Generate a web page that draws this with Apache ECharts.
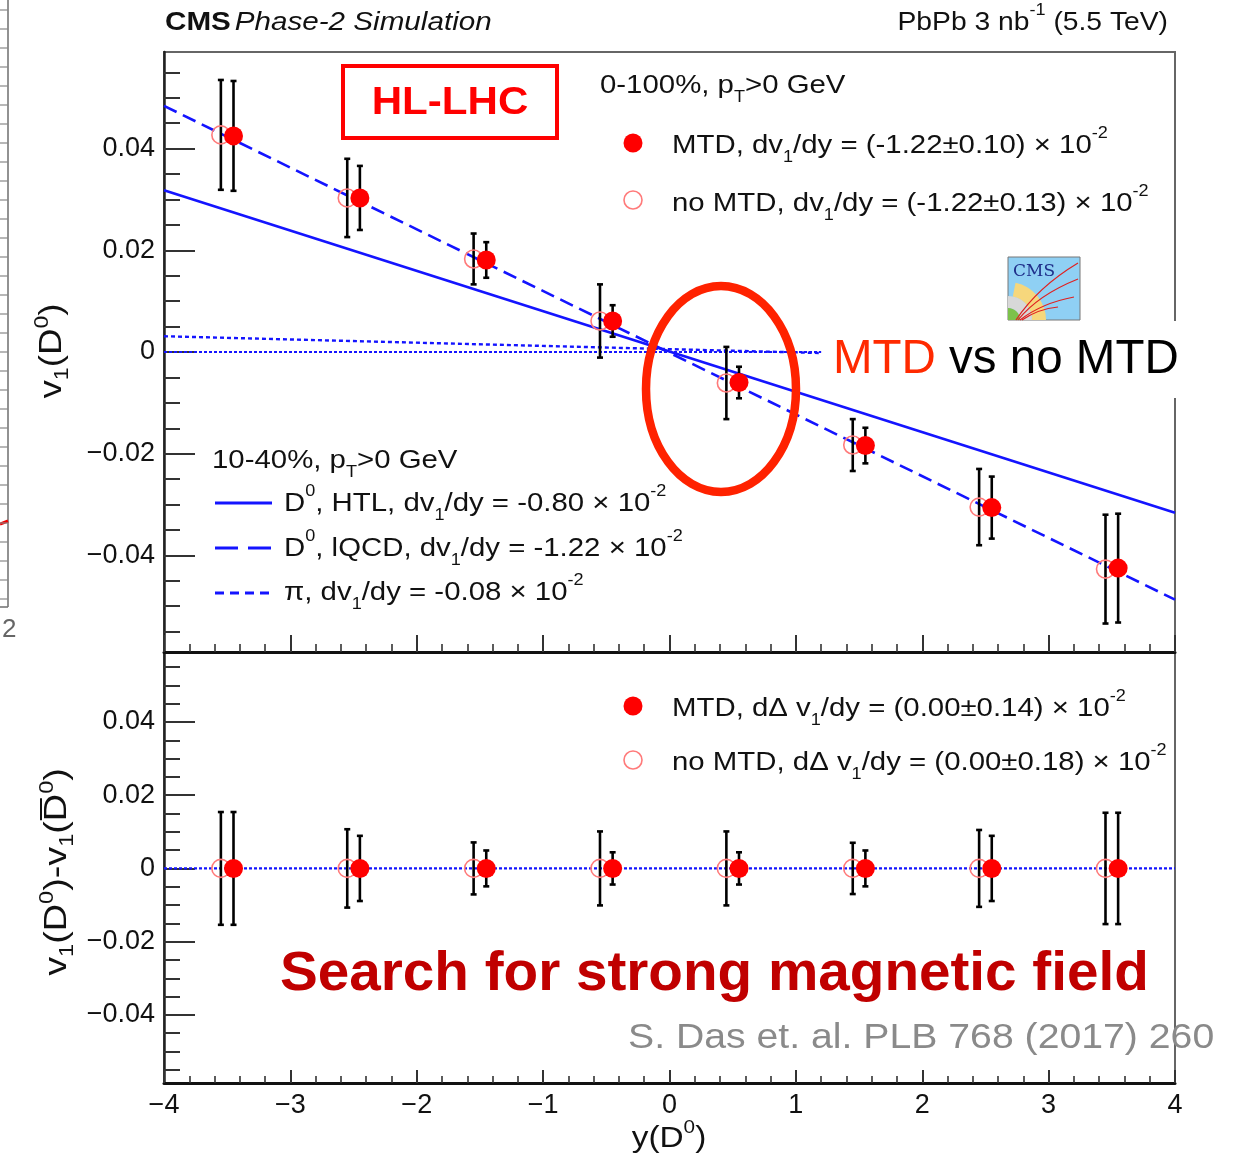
<!DOCTYPE html>
<html>
<head>
<meta charset="utf-8">
<script src="https://cdn.jsdelivr.net/npm/echarts@6/dist/echarts.min.js"></script>
<style>
  html, body { margin: 0; padding: 0; background: #fff; }
  #chart { width: 1246px; height: 1160px; }
</style>
</head>
<body>
<div id="chart"></div>
<script>
// rapidity bins (points shifted +-0.05 so both sets are visible)
const yMtd   = [-3.45, -2.45, -1.45, -0.45, 0.55, 1.55, 2.55, 3.55];
const yNoMtd = [-3.55, -2.55, -1.55, -0.55, 0.45, 1.45, 2.45, 3.45];

// upper panel: v1(D0)
const v1Mtd     = [0.0425, 0.0303, 0.0181, 0.0061, -0.0060, -0.0184, -0.0306, -0.0425];
const v1NoMtd   = [0.0427, 0.0303, 0.0183, 0.0061, -0.0061, -0.0183, -0.0305, -0.0427];
const errMtd    = [0.0108, 0.0063, 0.0035, 0.0031, 0.0031, 0.0035, 0.0061, 0.0107];
const errNoMtd  = [0.0108, 0.0077, 0.0050, 0.0072, 0.0071, 0.0051, 0.0075, 0.0107];

// lower panel: v1(D0) - v1(D0bar)
const dMtd      = [0, 0, 0, 0, 0, 0, 0, 0];
const dNoMtd    = [0, 0, 0, 0, 0, 0, 0, 0];
const dErrMtd   = [0.0154, 0.0089, 0.0049, 0.0044, 0.0044, 0.0049, 0.0089, 0.0152];
const dErrNoMtd = [0.0154, 0.0107, 0.0071, 0.0101, 0.0101, 0.0070, 0.0105, 0.0152];

// model curves
const htlLine  = [[-4, 0.0318], [4, -0.0316]];
const lqcdLine = [[-4, 0.0484], [4, -0.0487]];
const pionLine = [[-4, 0.0031], [1.2, -0.0002]];
const zeroTop  = [[-4, 0], [1.2, 0]];
const zeroBot  = [[-4, 0], [4, 0]];

// axis ticks
const yTicks = [-0.04, -0.02, 0, 0.02, 0.04];
const yMinorTicks = [];
for (let v = -0.055; v < 0.056; v += 0.005) {
  const r = Math.round(v * 1000) / 1000;
  if (yTicks.indexOf(r) < 0) yMinorTicks.push(r);
}

const FONT = "'Liberation Sans', Arial, sans-serif";
const BLUE = '#1414ff';
const RED = '#ff0000';
const OPEN_RED = '#ff7a7a';
const SX = 1.13; // the reference lettering is a little wider than Liberation Sans

const fmt = v => v === 0 ? '0' : (v < 0 ? '\u2212' + Math.abs(v) : String(v));
const zip3 = (xs, ys, es) => xs.map((x, i) => [x, ys[i], es[i]]);
const zip2 = (xs, ys) => xs.map((x, i) => [x, ys[i]]);

function errorBars(params, api) {
  const x = api.value(0), y = api.value(1), e = api.value(2);
  const top = api.coord([x, y + e]);
  const bot = api.coord([x, y - e]);
  const st = { stroke: '#000', lineWidth: 2.6 };
  return {
    type: 'group',
    children: [
      { type: 'line', shape: { x1: top[0], y1: top[1], x2: bot[0], y2: bot[1] }, style: st },
      { type: 'line', shape: { x1: top[0] - 3, y1: top[1], x2: top[0] + 3, y2: top[1] }, style: st },
      { type: 'line', shape: { x1: bot[0] - 3, y1: bot[1], x2: bot[0] + 3, y2: bot[1] }, style: st }
    ]
  };
}

function xAxisCfg(gridIndex, labels, major, minor) {
  return {
    type: 'value', gridIndex: gridIndex, min: -4, max: 4, interval: 1,
    axisLine: { show: true, onZero: false, lineStyle: { color: '#111', width: 3 } },
    axisTick: { show: true, inside: true, length: major, lineStyle: { color: '#333', width: 2 } },
    minorTick: { show: true, splitNumber: 5, length: minor, lineStyle: { color: '#333', width: 1.6 } },
    splitLine: { show: false },
    axisLabel: { show: labels, margin: 9, color: '#111', fontSize: 27, fontFamily: FONT, formatter: fmt }
  };
}
function yAxisMain(gridIndex, min, max) {
  return {
    type: 'value', gridIndex: gridIndex, min: min, max: max, position: 'left',
    axisLine: { show: true, onZero: false, lineStyle: { color: '#222', width: 2.5 } },
    axisTick: { show: true, inside: true, length: 31, customValues: yTicks, lineStyle: { color: '#333', width: 2 } },
    splitLine: { show: false },
    axisLabel: { customValues: yTicks, margin: 9, color: '#111', fontSize: 27, fontFamily: FONT, formatter: fmt }
  };
}
function yAxisMinor(gridIndex, min, max) {
  return {
    type: 'value', gridIndex: gridIndex, min: min, max: max, position: 'left',
    axisLine: { show: false, onZero: false },
    axisTick: { show: true, inside: true, length: 16, customValues: yMinorTicks, lineStyle: { color: '#333', width: 2 } },
    splitLine: { show: false },
    axisLabel: { show: false }
  };
}

function lineSeries(data, xi, yi, type, width) {
  return {
    type: 'line', xAxisIndex: xi, yAxisIndex: yi, data: data, showSymbol: false, symbol: 'none',
    lineStyle: { color: BLUE, width: width, type: type }, z: 1, silent: true
  };
}
function errSeries(data, xi, yi) {
  return { type: 'custom', xAxisIndex: xi, yAxisIndex: yi, data: data, renderItem: errorBars,
           encode: { x: 0, y: 1 }, z: 2, silent: true };
}
function markSeries(data, xi, yi, filled) {
  return {
    type: 'scatter', xAxisIndex: xi, yAxisIndex: yi, data: data, symbol: 'circle',
    symbolSize: filled ? 19 : 18, z: filled ? 4 : 3, silent: true,
    itemStyle: filled ? { color: RED, opacity: 1 }
                      : { color: 'rgba(255,255,255,0)', borderColor: OPEN_RED, borderWidth: 1.6, opacity: 1 }
  };
}

// rich text helpers for sub/superscripts
function rich(size) {
  const s = Math.round(size * 0.62);
  return {
    n: { fontSize: size, fontFamily: FONT, lineHeight: 40, fill: '#111' },
    sub: { fontSize: s, fontFamily: FONT, lineHeight: 20, verticalAlign: 'bottom', fill: '#111' },
    sup: { fontSize: s, fontFamily: FONT, lineHeight: 22, verticalAlign: 'top', fill: '#111' }
  };
}
function txt(x, y, text, size, align, extra) {
  return Object.assign({
    type: 'text', x: x, y: y, z: 50, scaleX: SX,
    style: { text: text, rich: rich(size), fill: '#111', font: size + 'px ' + FONT,
             textAlign: align || 'left', textVerticalAlign: 'middle' }
  }, extra || {});
}

// left strip: edge of a neighbouring plot
const strip = [
  { type: 'line', shape: { x1: 8, y1: 0, x2: 8, y2: 607 }, style: { stroke: '#777', lineWidth: 1.6 } },
  { type: 'line', shape: { x1: 0, y1: 607, x2: 8, y2: 607 }, style: { stroke: '#777', lineWidth: 1.6 } },
  { type: 'line', shape: { x1: 0, y1: 524, x2: 8, y2: 521 }, style: { stroke: '#e00', lineWidth: 3 } },
  { type: 'text', x: 2, y: 630, style: { text: '2', font: '26px ' + FONT, fill: '#666', textVerticalAlign: 'middle' } }
];
for (let t = 10; t < 600; t += 19) {
  strip.push({ type: 'line', shape: { x1: 0, y1: t, x2: 8, y2: t }, style: { stroke: '#888', lineWidth: 1.2 } });
}

// CMS logo
const logo = {
  type: 'group', x: 1008, y: 257, z: 60,
  children: [
    { type: 'rect', shape: { x: 0, y: 0, width: 72, height: 63 }, style: { fill: '#8fd0f4', stroke: '#777', lineWidth: 1 } },
    { type: 'sector', shape: { cx: 0, cy: 63, r0: 24, r: 38, startAngle: -Math.PI / 2 + 0.2, endAngle: 0 }, style: { fill: '#f6d77c' } },
    { type: 'sector', shape: { cx: 0, cy: 63, r0: 12, r: 24, startAngle: -Math.PI / 2, endAngle: 0 }, style: { fill: '#d8d8d8' } },
    { type: 'sector', shape: { cx: 0, cy: 63, r0: 0, r: 12, startAngle: -Math.PI / 2, endAngle: 0 }, style: { fill: '#7cc24a' } },
    { type: 'text', x: 5, y: 15, style: { text: 'CMS', font: '17px "DejaVu Serif", serif', fill: '#1f2f8a', textVerticalAlign: 'middle' } },
    { type: 'bezierCurve', shape: { x1: 8, y1: 63, x2: 70, y2: 6, cpx1: 30, cpy1: 30 }, style: { stroke: '#e02020', lineWidth: 1.2, fill: null } },
    { type: 'bezierCurve', shape: { x1: 10, y1: 63, x2: 70, y2: 22, cpx1: 30, cpy1: 38 }, style: { stroke: '#e02020', lineWidth: 1.2, fill: null } },
    { type: 'bezierCurve', shape: { x1: 12, y1: 63, x2: 66, y2: 40, cpx1: 34, cpy1: 46 }, style: { stroke: '#e02020', lineWidth: 1.2, fill: null } },
    { type: 'bezierCurve', shape: { x1: 14, y1: 63, x2: 50, y2: 50, cpx1: 30, cpy1: 52 }, style: { stroke: '#e02020', lineWidth: 1.2, fill: null } }
  ]
};

const graphics = [].concat(strip, [
  // header
  { type: 'text', x: 165, y: 23, z: 50, scaleX: 1.14, style: {
      text: '{b|CMS} {i|Phase-2 Simulation}', textAlign: 'left', textVerticalAlign: 'middle',
      rich: { b: { fontSize: 26, fontWeight: 'bold', fontFamily: FONT, fill: '#111' },
              i: { fontSize: 26, fontStyle: 'italic', fontFamily: FONT, fill: '#111' } } } },
  txt(1168, 23, '{n|PbPb 3 nb}{sup|-1}{n| (5.5 TeV)}', 25, 'right'),

  // HL-LHC box
  { type: 'rect', z: 50, shape: { x: 343, y: 66, width: 214, height: 72 }, style: { fill: '#fff', stroke: RED, lineWidth: 4 } },
  { type: 'text', z: 51, x: 450, y: 103, scaleX: 1.08, style: { text: 'HL-LHC', font: 'bold 39px ' + FONT, fill: RED, textAlign: 'center', textVerticalAlign: 'middle' } },

  // upper legend (data)
  txt(600, 86, '{n|0-100%, p}{sub|T}{n|>0 GeV}', 26),
  { type: 'circle', z: 50, shape: { cx: 633, cy: 143, r: 9.5 }, style: { fill: RED } },
  txt(672, 146, '{n|MTD, dv}{sub|1}{n|/dy = (-1.22±0.10) × 10}{sup|-2}', 26),
  { type: 'circle', z: 50, shape: { cx: 633, cy: 200, r: 9 }, style: { fill: 'none', stroke: OPEN_RED, lineWidth: 1.6 } },
  txt(672, 204, '{n|no MTD, dv}{sub|1}{n|/dy = (-1.22±0.13) × 10}{sup|-2}', 26),

  // upper legend (models)
  txt(212, 461, '{n|10-40%, p}{sub|T}{n|>0 GeV}', 26),
  { type: 'line', z: 50, shape: { x1: 215, y1: 503, x2: 272, y2: 503 }, style: { stroke: BLUE, lineWidth: 3 } },
  txt(284, 504, '{n|D}{sup|0}{n|, HTL, dv}{sub|1}{n|/dy = -0.80 × 10}{sup|-2}', 26),
  { type: 'line', z: 50, shape: { x1: 215, y1: 548, x2: 272, y2: 548 }, style: { stroke: BLUE, lineWidth: 3, lineDash: [23, 10] } },
  txt(284, 549, '{n|D}{sup|0}{n|, lQCD, dv}{sub|1}{n|/dy = -1.22 × 10}{sup|-2}', 26),
  { type: 'line', z: 50, shape: { x1: 215, y1: 593, x2: 272, y2: 593 }, style: { stroke: BLUE, lineWidth: 3, lineDash: [9, 6] } },
  txt(284, 593, '{n|π, dv}{sub|1}{n|/dy = -0.08 × 10}{sup|-2}', 26),

  // lower legend
  { type: 'circle', z: 50, shape: { cx: 633, cy: 706, r: 9.5 }, style: { fill: RED } },
  txt(672, 709, '{n|MTD, dΔ v}{sub|1}{n|/dy = (0.00±0.14) × 10}{sup|-2}', 26),
  { type: 'circle', z: 50, shape: { cx: 633, cy: 760, r: 9 }, style: { fill: 'none', stroke: OPEN_RED, lineWidth: 1.6 } },
  txt(672, 763, '{n|no MTD, dΔ v}{sub|1}{n|/dy = (0.00±0.18) × 10}{sup|-2}', 26),

  // axis titles
  txt(52, 351, '{n|v}{sub|1}{n|(D}{sup|0}{n|)}', 32, 'center', { rotation: Math.PI / 2, scaleX: 1.15 }),
  txt(57, 872, '{n|v}{sub|1}{n|(D}{sup|0}{n|)-v}{sub|1}{n|(D\u0305}{sup|0}{n|)}', 32, 'center', { rotation: Math.PI / 2, scaleX: 1.18 }),
  txt(669, 1139, '{n|y(D}{sup|0}{n|)}', 29, 'center', { scaleX: 1.15 }),

  // circled point
  { type: 'ellipse', z: 55, shape: { cx: 721, cy: 389, rx: 75, ry: 103 }, style: { fill: 'none', stroke: '#ff2200', lineWidth: 8.5 } },

  // logo + caption
  logo,
  { type: 'rect', z: 58, shape: { x: 826, y: 321, width: 356, height: 77 }, style: { fill: '#fff' } },
  { type: 'text', z: 59, x: 833, y: 360, style: {
      text: '{r|MTD}{k| vs no MTD}', textAlign: 'left', textVerticalAlign: 'middle',
      rich: { r: { fontSize: 47.5, fontFamily: FONT, fill: '#ff2a00' }, k: { fontSize: 47.5, fontFamily: FONT, fill: '#000' } } } },

  // notes
  { type: 'text', z: 50, x: 280, y: 975, scaleX: 1.03, style: { text: 'Search for strong magnetic field', font: 'bold 55px ' + FONT, fill: '#c00000', textAlign: 'left', textVerticalAlign: 'middle' } },
  { type: 'text', z: 50, x: 628, y: 1038, scaleX: 1.12, style: { text: 'S. Das et. al. PLB 768 (2017) 260', font: '35px ' + FONT, fill: '#8a8a8a', textAlign: 'left', textVerticalAlign: 'middle' } }
]);

const chart = echarts.init(document.getElementById('chart'), null, { renderer: 'canvas' });
chart.setOption({
  animation: false,
  backgroundColor: '#fff',
  grid: [
    { left: 164, top: 52, width: 1011, height: 600, show: true, borderColor: '#666', borderWidth: 2, backgroundColor: 'transparent' },
    { left: 164, top: 652, width: 1011, height: 431, show: true, borderColor: '#666', borderWidth: 2, backgroundColor: 'transparent' }
  ],
  xAxis: [
    xAxisCfg(0, false, 17, 8),
    xAxisCfg(1, true, 13, 7)
  ],
  yAxis: [
    yAxisMain(0, -0.059, 0.059),
    yAxisMinor(0, -0.059, 0.059),
    yAxisMain(1, -0.0586, 0.0591),
    yAxisMinor(1, -0.0586, 0.0591)
  ],
  series: [
    lineSeries(htlLine, 0, 0, 'solid', 2.6),
    lineSeries(lqcdLine, 0, 0, [14, 7], 2.6),
    lineSeries(pionLine, 0, 0, [4, 3], 2.4),
    lineSeries(zeroTop, 0, 0, [3, 2], 2.2),
    errSeries(zip3(yNoMtd, v1NoMtd, errNoMtd), 0, 0),
    errSeries(zip3(yMtd, v1Mtd, errMtd), 0, 0),
    markSeries(zip2(yNoMtd, v1NoMtd), 0, 0, false),
    markSeries(zip2(yMtd, v1Mtd), 0, 0, true),

    lineSeries(zeroBot, 1, 2, [3, 2], 2.2),
    errSeries(zip3(yNoMtd, dNoMtd, dErrNoMtd), 1, 2),
    errSeries(zip3(yMtd, dMtd, dErrMtd), 1, 2),
    markSeries(zip2(yNoMtd, dNoMtd), 1, 2, false),
    markSeries(zip2(yMtd, dMtd), 1, 2, true)
  ],
  graphic: graphics
});
</script>
</body>
</html>
